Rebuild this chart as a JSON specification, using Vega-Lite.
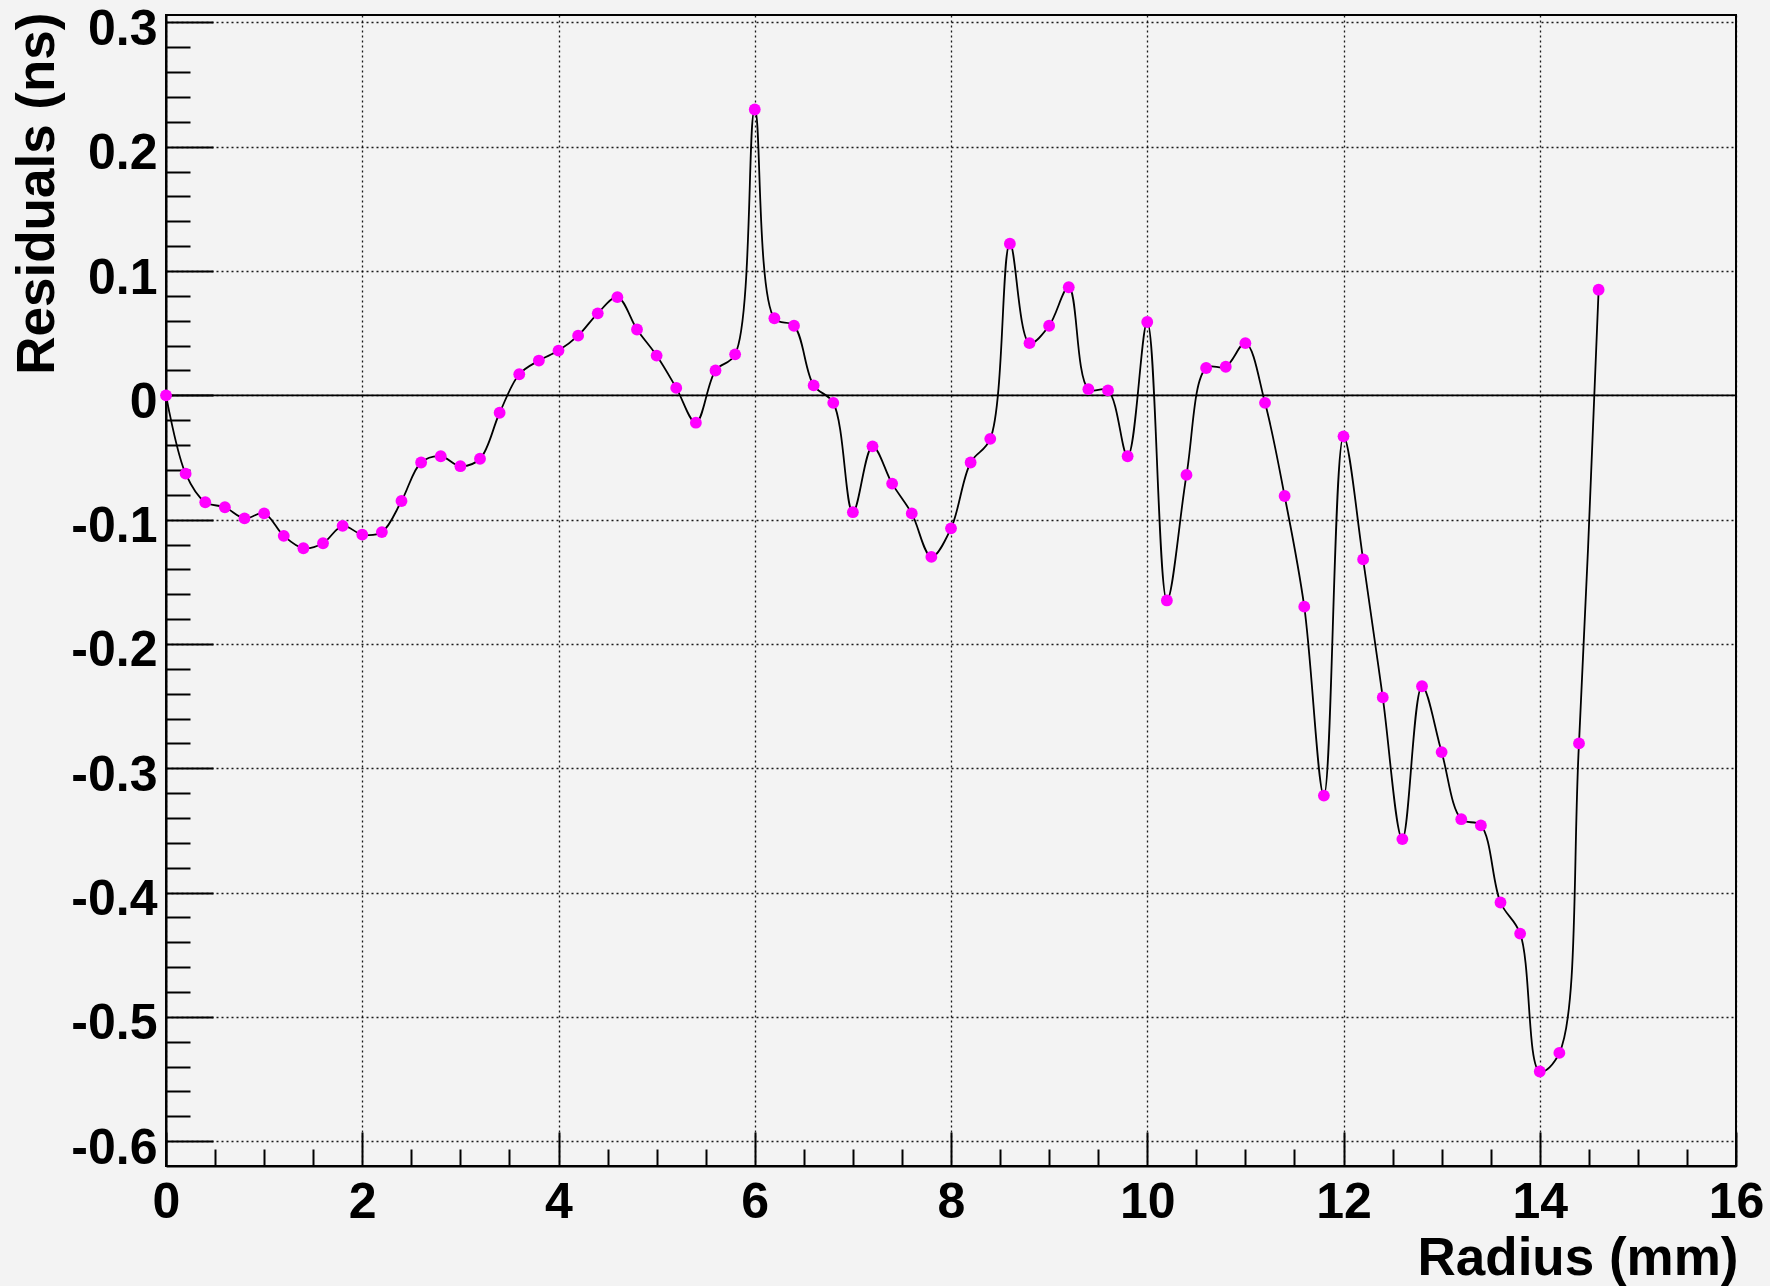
{
  "$schema": "https://vega.github.io/schema/vega-lite/v6.json",
  "width": 1570,
  "height": 1151,
  "autosize": {"type": "none"},
  "padding": {"left": 166, "top": 15, "right": 34, "bottom": 120},
  "background": "#f3f3f3",
  "config": {"view": {"stroke": "#000", "strokeWidth": 2, "fill": "#f3f3f3"}, "font": "Liberation Sans"},
  "data": {"values": [
    {"r": 0, "res": 0}, {"r": 0.2, "res": -0.063}, {"r": 0.4, "res": -0.086}, {"r": 0.6, "res": -0.09},
    {"r": 0.8, "res": -0.099}, {"r": 1.0, "res": -0.095}, {"r": 1.2, "res": -0.113}, {"r": 1.4, "res": -0.123},
    {"r": 1.6, "res": -0.119}, {"r": 1.8, "res": -0.105}, {"r": 2.0, "res": -0.112}, {"r": 2.2, "res": -0.11},
    {"r": 2.4, "res": -0.085}, {"r": 2.6, "res": -0.054}, {"r": 2.8, "res": -0.049}, {"r": 3.0, "res": -0.057},
    {"r": 3.2, "res": -0.051}, {"r": 3.4, "res": -0.014}, {"r": 3.6, "res": 0.017}, {"r": 3.8, "res": 0.028},
    {"r": 4.0, "res": 0.036}, {"r": 4.2, "res": 0.048}, {"r": 4.4, "res": 0.066}, {"r": 4.6, "res": 0.079},
    {"r": 4.8, "res": 0.053}, {"r": 5.0, "res": 0.032}, {"r": 5.2, "res": 0.006}, {"r": 5.4, "res": -0.022},
    {"r": 5.6, "res": 0.02}, {"r": 5.8, "res": 0.033}, {"r": 6.0, "res": 0.23}, {"r": 6.2, "res": 0.062},
    {"r": 6.4, "res": 0.056}, {"r": 6.6, "res": 0.008}, {"r": 6.8, "res": -0.006}, {"r": 7.0, "res": -0.094},
    {"r": 7.2, "res": -0.041}, {"r": 7.4, "res": -0.071}, {"r": 7.6, "res": -0.095}, {"r": 7.8, "res": -0.13},
    {"r": 8.0, "res": -0.107}, {"r": 8.2, "res": -0.054}, {"r": 8.4, "res": -0.035}, {"r": 8.6, "res": 0.122},
    {"r": 8.8, "res": 0.042}, {"r": 9.0, "res": 0.056}, {"r": 9.2, "res": 0.087}, {"r": 9.4, "res": 0.005},
    {"r": 9.6, "res": 0.004}, {"r": 9.8, "res": -0.049}, {"r": 10.0, "res": 0.059}, {"r": 10.2, "res": -0.165},
    {"r": 10.4, "res": -0.064}, {"r": 10.6, "res": 0.022}, {"r": 10.8, "res": 0.023}, {"r": 11.0, "res": 0.042},
    {"r": 11.2, "res": -0.006}, {"r": 11.4, "res": -0.081}, {"r": 11.6, "res": -0.17}, {"r": 11.8, "res": -0.322},
    {"r": 12.0, "res": -0.033}, {"r": 12.2, "res": -0.132}, {"r": 12.4, "res": -0.243}, {"r": 12.6, "res": -0.357},
    {"r": 12.8, "res": -0.234}, {"r": 13.0, "res": -0.287}, {"r": 13.2, "res": -0.341}, {"r": 13.4, "res": -0.346},
    {"r": 13.6, "res": -0.408}, {"r": 13.8, "res": -0.433}, {"r": 14.0, "res": -0.544}, {"r": 14.2, "res": -0.529},
    {"r": 14.4, "res": -0.28}, {"r": 14.6, "res": 0.085}
  ]},
  "layer": [
    {
      "data": {"values": [{}]},
      "mark": {"type": "rule", "color": "#000", "strokeWidth": 1.7},
      "encoding": {"y": {"datum": 0, "type": "quantitative"}}
    },
    {
      "encoding": {
        "x": {
          "field": "r", "type": "quantitative",
          "scale": {"domain": [0, 16], "nice": false, "zero": false},
          "axis": {
            "values": [0,0.5,1,1.5,2,2.5,3,3.5,4,4.5,5,5.5,6,6.5,7,7.5,8,8.5,9,9.5,10,10.5,11,11.5,12,12.5,13,13.5,14,14.5,15,15.5,16],
            "tickCount": 200,
            "title": "Radius (mm)",
            "titleFont": "Liberation Sans", "titleFontSize": 53, "titleFontWeight": "bold", "titleColor": "#000",
            "titleAlign": "right", "titleBaseline": "alphabetic", "titleX": 1572, "titleY": 108, "titleAngle": 0,
            "labelExpr": "datum.value % 2 == 0 ? '' + datum.value : ''",
            "labelFont": "Liberation Sans", "labelFontSize": 50, "labelFontWeight": "bold", "labelColor": "#000",
            "labelBaseline": "alphabetic", "labelPadding": 85, "labelOverlap": false, "labelFlush": false, "labelBound": false,
            "tickColor": "#000", "tickWidth": 2,
            "tickSize": {"condition": {"test": "datum.value % 2 == 0", "value": -34}, "value": -17},
            "grid": true, "gridColor": "#000", "gridWidth": 1.3, "gridDash": [2, 3],
            "gridOpacity": {"condition": {"test": "datum.value % 2 == 0", "value": 0.9}, "value": 0},
            "domainColor": "#000", "domainWidth": 2
          }
        },
        "y": {
          "field": "res", "type": "quantitative",
          "scale": {"domain": [-0.62, 0.306], "nice": false, "zero": false},
          "axis": {
            "values": [-0.6,-0.58,-0.56,-0.54,-0.52,-0.5,-0.48,-0.46,-0.44,-0.42,-0.4,-0.38,-0.36,-0.34,-0.32,-0.3,-0.28,-0.26,-0.24,-0.22,-0.2,-0.18,-0.16,-0.14,-0.12,-0.1,-0.08,-0.06,-0.04,-0.02,0,0.02,0.04,0.06,0.08,0.1,0.12,0.14,0.16,0.18,0.2,0.22,0.24,0.26,0.28,0.3],
            "tickCount": 200,
            "title": "Residuals (ns)",
            "titleFont": "Liberation Sans", "titleFontSize": 53, "titleFontWeight": "bold", "titleColor": "#000",
            "titleAlign": "right", "titleBaseline": "alphabetic", "titleX": -113, "titleY": -3, "titleAngle": -90,
            "labelExpr": "round(datum.value*50) % 5 == 0 ? '' + round(datum.value*10)/10 : ''",
            "labelFont": "Liberation Sans", "labelFontSize": 50, "labelFontWeight": "bold", "labelColor": "#000",
            "labelBaseline": "middle", "labelOffset": 7, "labelPadding": 56, "labelOverlap": false, "labelFlush": false, "labelBound": false,
            "tickColor": "#000", "tickWidth": 2,
            "tickSize": {"condition": {"test": "round(datum.value*50) % 5 == 0", "value": -47}, "value": -24},
            "grid": true, "gridColor": "#000", "gridWidth": 1.3, "gridDash": [2, 3],
            "gridOpacity": {"condition": {"test": "round(datum.value*50) % 5 == 0", "value": 0.9}, "value": 0},
            "domainColor": "#000", "domainWidth": 2
          }
        }
      },
      "layer": [
        {"mark": {"type": "line", "interpolate": "catmull-rom", "color": "#000", "strokeWidth": 1.8}},
        {"mark": {"type": "point", "filled": true, "shape": "circle", "color": "#ff00ff", "opacity": 1, "size": 140}}
      ]
    }
  ]
}
